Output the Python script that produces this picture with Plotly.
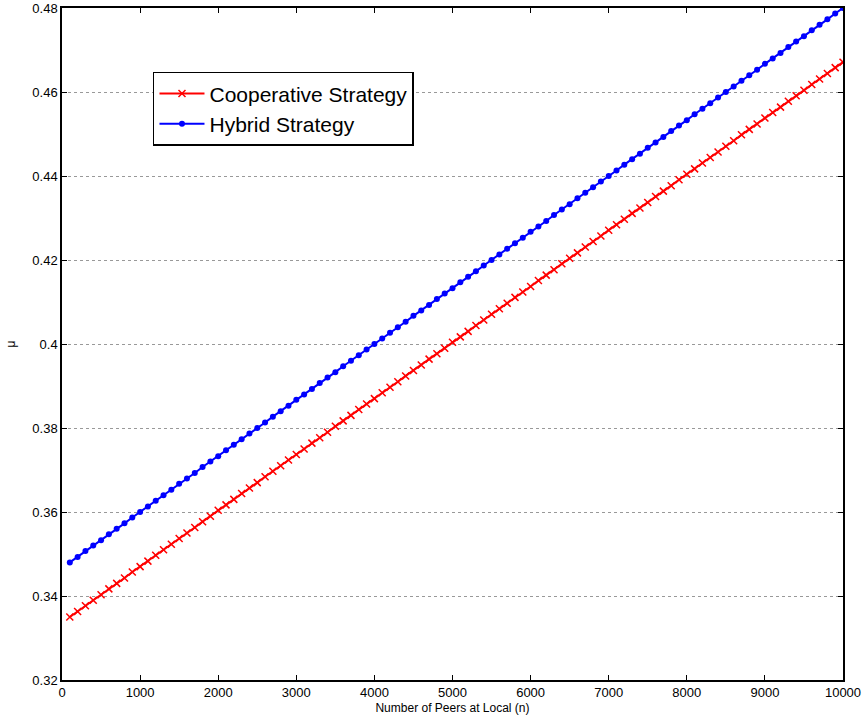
import plotly.graph_objects as go

# Number of peers at the local site
peers = list(range(100, 10001, 100))

# mu for the cooperative strategy
cooperative = [
    0.3350, 0.3363, 0.3377, 0.3390, 0.3403, 0.3417, 0.3430, 0.3443, 0.3457, 0.3470,
    0.3483, 0.3497, 0.3510, 0.3523, 0.3537, 0.3550, 0.3563, 0.3577, 0.3590, 0.3604,
    0.3617, 0.3630, 0.3644, 0.3657, 0.3670, 0.3684, 0.3697, 0.3710, 0.3724, 0.3737,
    0.3750, 0.3764, 0.3777, 0.3790, 0.3804, 0.3817, 0.3830, 0.3844, 0.3857, 0.3870,
    0.3884, 0.3897, 0.3910, 0.3924, 0.3937, 0.3950, 0.3964, 0.3977, 0.3990, 0.4004,
    0.4017, 0.4030, 0.4044, 0.4057, 0.4071, 0.4084, 0.4097, 0.4111, 0.4124, 0.4137,
    0.4151, 0.4164, 0.4177, 0.4191, 0.4204, 0.4217, 0.4231, 0.4244, 0.4257, 0.4271,
    0.4284, 0.4297, 0.4311, 0.4324, 0.4337, 0.4351, 0.4364, 0.4377, 0.4391, 0.4404,
    0.4417, 0.4431, 0.4444, 0.4457, 0.4471, 0.4484, 0.4498, 0.4511, 0.4524, 0.4538,
    0.4551, 0.4564, 0.4578, 0.4591, 0.4604, 0.4618, 0.4631, 0.4644, 0.4658, 0.4671,
]

# mu for the hybrid strategy
hybrid = [
    0.3480, 0.3493, 0.3507, 0.3520, 0.3533, 0.3547, 0.3560, 0.3573, 0.3587, 0.3600,
    0.3613, 0.3627, 0.3640, 0.3653, 0.3667, 0.3680, 0.3693, 0.3707, 0.3720, 0.3733,
    0.3747, 0.3760, 0.3773, 0.3787, 0.3800, 0.3813, 0.3827, 0.3840, 0.3853, 0.3867,
    0.3880, 0.3893, 0.3907, 0.3920, 0.3933, 0.3947, 0.3960, 0.3973, 0.3987, 0.4000,
    0.4013, 0.4027, 0.4040, 0.4053, 0.4067, 0.4080, 0.4093, 0.4107, 0.4120, 0.4133,
    0.4147, 0.4160, 0.4173, 0.4187, 0.4200, 0.4213, 0.4227, 0.4240, 0.4253, 0.4267,
    0.4280, 0.4293, 0.4307, 0.4320, 0.4333, 0.4347, 0.4360, 0.4373, 0.4387, 0.4400,
    0.4413, 0.4427, 0.4440, 0.4453, 0.4467, 0.4480, 0.4493, 0.4507, 0.4520, 0.4533,
    0.4547, 0.4560, 0.4573, 0.4587, 0.4600, 0.4613, 0.4627, 0.4640, 0.4653, 0.4667,
    0.4680, 0.4693, 0.4707, 0.4720, 0.4733, 0.4747, 0.4760, 0.4773, 0.4787, 0.4800,
]

x_ticks = [0, 1000, 2000, 3000, 4000, 5000, 6000, 7000, 8000, 9000, 10000]
x_tick_text = ["0", "1000", "2000", "3000", "4000", "5000", "6000", "7000", "8000", "9000", "10000"]
y_ticks = [0.32, 0.34, 0.36, 0.38, 0.40, 0.42, 0.44, 0.46, 0.48]
y_tick_text = ["0.32", "0.34", "0.36", "0.38", "0.4", "0.42", "0.44", "0.46", "0.48"]

FONT = "Liberation Sans, Arial, sans-serif"

fig = go.Figure()
fig.add_trace(go.Scatter(
    x=peers, y=cooperative, mode="lines+markers", name="Cooperative Strategy",
    line=dict(color="#ff0000", width=2),
    marker=dict(symbol="x-thin", size=7, color="#ff0000",
                line=dict(color="#ff0000", width=1.5)),
))
fig.add_trace(go.Scatter(
    x=peers, y=hybrid, mode="lines+markers", name="Hybrid Strategy",
    line=dict(color="#0000ff", width=2),
    marker=dict(symbol="circle", size=6, color="#0000ff"),
))

axis_common = dict(
    showline=True, linecolor="black", linewidth=1.5, mirror="allticks",
    ticks="inside", ticklen=5, tickcolor="black", tickwidth=1,
    tickfont=dict(family=FONT, size=13, color="black"),
    zeroline=False, automargin=False,
)

fig.update_layout(
    width=864, height=724,
    margin=dict(l=62, r=21, t=8, b=44),
    paper_bgcolor="white", plot_bgcolor="white",
    font=dict(family=FONT, color="black"),
    xaxis=dict(
        range=[0, 10000], tickvals=x_ticks, ticktext=x_tick_text, showgrid=False,
        title=dict(text="Number of Peers at Local (n)", font=dict(size=12), standoff=4),
        **axis_common,
    ),
    yaxis=dict(
        range=[0.32, 0.48], tickvals=y_ticks, ticktext=y_tick_text,
        showgrid=True, gridcolor="#999999", griddash="dot", gridwidth=1,
        title=dict(text="μ", font=dict(size=12), standoff=14),
        **axis_common,
    ),
    legend=dict(
        x=0.1165, y=0.905, xanchor="left", yanchor="top",
        bgcolor="white", bordercolor="black", borderwidth=1.5,
        font=dict(family=FONT, size=21, color="black"),
        tracegroupgap=0, itemwidth=45,
    ),
)

fig.write_html("out.html")
